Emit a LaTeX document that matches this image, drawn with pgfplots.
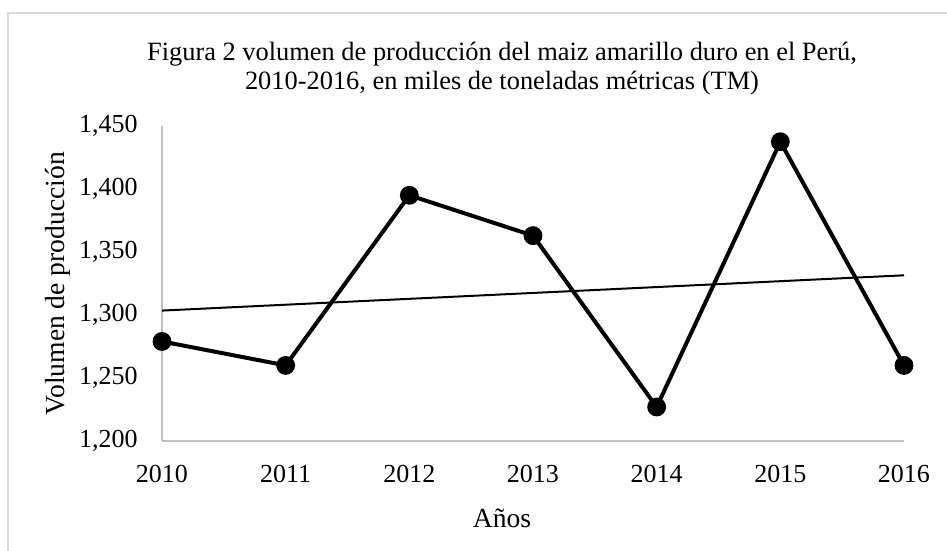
\documentclass[border=0pt]{standalone}
\usepackage{pgfplots}
\pgfplotsset{compat=1.18}
\usepackage{fontspec}
\setmainfont{Liberation Serif}
\definecolor{framegray}{HTML}{D9D9D9}
\definecolor{axgray}{HTML}{BFBFBF}

\begin{document}
\begin{tikzpicture}
\useasboundingbox (0,0) rectangle (473.5pt,275.5pt);
% chart frame (only top and left edges fall on the page)
\draw[framegray, line width=1pt] (4pt,-5pt) -- (4pt,269pt) -- (480pt,269pt);
\node[align=center, font=\fontsize{13.2}{14.5}\selectfont, anchor=base] at (251pt,230.5pt)
  {Figura 2 volumen de producción del maiz amarillo duro en el Perú,\\
   2010-2016, en miles de toneladas métricas (TM)};
\begin{axis}[
  at={(81pt,55pt)}, anchor=south west,
  width=371pt, height=157.5pt, scale only axis,
  xmin=2010, xmax=2016, ymin=1200, ymax=1450,
  xtick={2010,2011,...,2016}, ytick={1200,1250,...,1450},
  axis lines=left, axis line style={axgray, line width=0.75pt, -},
  major tick length=0pt,
  /pgf/number format/assume math mode=true,
  x tick label style={/pgf/number format/.cd, 1000 sep={}, /tikz/.cd,
    font=\fontsize{13}{15}\selectfont, inner sep=0pt, yshift=-12pt},
  y tick label style={/pgf/number format/.cd, 1000 sep={,}, /tikz/.cd,
    font=\fontsize{13}{15}\selectfont, inner sep=0pt, xshift=-12pt},
  xlabel={Años}, ylabel={Volumen de producción},
  label style={font=\fontsize{13.8}{15}\selectfont},
  xlabel style={at={(axis description cs:0.5,0)}, anchor=center, yshift=-38.5pt, xshift=-15.5pt},
  ylabel style={at={(axis description cs:0,0.5)}, anchor=center, yshift=52pt},
  clip=false,
]
% trend line
\addplot[black, line width=1pt] coordinates {(2010,1303.5) (2016,1331.5)};
% production series
\addplot[black, line width=2pt, mark=*, mark size=3.7pt, mark options={solid, fill=black}]
  coordinates {(2010,1279) (2011,1260) (2012,1395) (2013,1363) (2014,1227) (2015,1437.5) (2016,1260)};
\end{axis}
\end{tikzpicture}
\end{document}
